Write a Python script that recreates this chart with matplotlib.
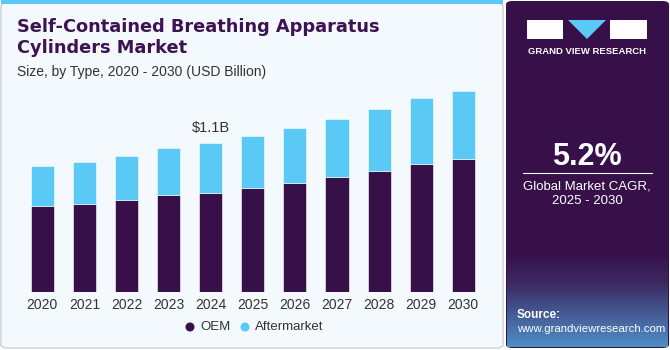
import numpy as np
import matplotlib
matplotlib.use("Agg")
from matplotlib import pyplot as plt
from matplotlib.patches import FancyBboxPatch, Rectangle, Polygon
from matplotlib.colors import LinearSegmentedColormap

years = ["2020", "2021", "2022", "2023", "2024", "2025", "2026", "2027", "2028", "2029", "2030"]
oem = [0.636, 0.651, 0.683, 0.718, 0.737, 0.772, 0.809, 0.851, 0.897, 0.949, 0.982]
aftermarket = [0.301, 0.311, 0.328, 0.347, 0.363, 0.382, 0.406, 0.431, 0.459, 0.486, 0.507]
series_names = ["OEM", "Aftermarket"]
highlight_label = "$1.1B"
highlight_index = 4

PURPLE = "#37104a"
CYAN = "#5bc9f5"
BG = "#f4f9fd"
TXT = "#333333"

plt.rcParams["font.family"] = ["Liberation Sans", "DejaVu Sans"]

W, H = 670, 350
fig = plt.figure(figsize=(W / 100, H / 100), dpi=100)
fig.patch.set_facecolor("white")


def px(x, y):
    # pixel coords (from top-left) -> figure fraction
    return x / W, 1 - y / H


# left panel
fig.patches.append(FancyBboxPatch((1 / W, 2 / H), 502 / W, 345 / H,
                                  boxstyle="round,pad=0,rounding_size=0.01",
                                  transform=fig.transFigure, facecolor=BG,
                                  edgecolor="#d4d8dc", linewidth=1.2, zorder=0))
fig.patches.append(Rectangle((1 / W, 1 - 4 / H), 502 / W, 4 / H,
                             transform=fig.transFigure, facecolor=CYAN,
                             edgecolor="none", zorder=0.5))

# right panel
fig.patches.append(FancyBboxPatch((506 / W, 2 / H), 163 / W, 347 / H,
                                  boxstyle="round,pad=0,rounding_size=0.01",
                                  transform=fig.transFigure, facecolor=PURPLE,
                                  edgecolor="none", zorder=0))
# bottom gradient of right panel
gax = fig.add_axes([507 / W, 3 / H, 161 / W, 95 / H])
gax.set_zorder(1)
grad = np.linspace(0, 1, 100).reshape(-1, 1)
cmap = LinearSegmentedColormap.from_list("g", [PURPLE, "#3c2a62", "#455d96", "#4f8dc6"])
gax.imshow(grad, aspect="auto", cmap=cmap, origin="upper", extent=[0, 1, 0, 1])
gax.axis("off")

# titles
x0, y0 = px(17, 27)
fig.text(x0, y0, "Self-Contained Breathing Apparatus", fontsize=12.8,
         fontweight="bold", color="#3b1451", va="center", ha="left",
         family="DejaVu Sans")
x0, y0 = px(17, 48)
fig.text(x0, y0, "Cylinders Market", fontsize=12.8,
         fontweight="bold", color="#3b1451", va="center", ha="left",
         family="DejaVu Sans")
x0, y0 = px(17, 72)
fig.text(x0, y0, "Size, by Type, 2020 - 2030 (USD Billion)", fontsize=10,
         color=TXT, va="center", ha="left")

# main chart
ax = fig.add_axes([21.25 / W, 58 / H, 463.1 / W, 216 / H])
ax.set_zorder(2)
ax.set_facecolor("none")
x = np.arange(len(years))
ax.bar(x, oem, width=0.55, color=PURPLE, edgecolor="#ffffff", linewidth=0.4)
ax.bar(x, aftermarket, bottom=oem, width=0.55, color=CYAN, edgecolor="#ffffff", linewidth=0.4)
ax.set_xlim(-0.5, len(years) - 0.5)
ax.set_ylim(0, 1.6)
ax.set_xticks(x)
ax.set_xticklabels(years, fontsize=10, color=TXT)
ax.tick_params(axis="x", length=0, pad=4)
ax.set_yticks([])
for s in ax.spines.values():
    s.set_visible(False)
top = oem[highlight_index] + aftermarket[highlight_index]
ax.annotate(highlight_label, (highlight_index, top), xytext=(0, 6),
            textcoords="offset points", ha="center", va="bottom",
            fontsize=10.5, color=TXT)

# legend
for (lx, name, col) in [(190, series_names[0], PURPLE), (245, series_names[1], CYAN)]:
    fx, fy = px(lx, 327)
    fig.patches.append(plt.Circle((lx, H - 327), 4.5, transform=None,
                                  facecolor=col, edgecolor="none", zorder=3))
    fig.text(fx + 10 / W, fy, name, fontsize=9.5, color=TXT, va="center", ha="left")

# logo
fig.patches.append(Rectangle((527 / W, 1 - 39 / H), 36 / W, 19 / H,
                             transform=fig.transFigure, facecolor="white", edgecolor="none", zorder=3))
fig.patches.append(Polygon([px(568, 20), px(606, 20), px(587, 39)], closed=True,
                           transform=fig.transFigure, facecolor=CYAN, edgecolor="none", zorder=3))
fig.patches.append(Rectangle((610 / W, 1 - 39 / H), 37 / W, 19 / H,
                             transform=fig.transFigure, facecolor="white", edgecolor="none", zorder=3))
fx, fy = px(587, 51)
fig.text(fx, fy, "GRAND VIEW RESEARCH", fontsize=6.8, fontweight="bold",
         color="white", ha="center", va="center")

# CAGR
fx, fy = px(587, 157)
fig.text(fx, fy, "5.2%", fontsize=22, fontweight="bold", color="white",
         ha="center", va="center")
fig.add_artist(plt.Line2D([523 / W, 652 / W], [1 - 173 / H, 1 - 173 / H],
                          transform=fig.transFigure, color="white", linewidth=0.8))
fx, fy = px(587, 186)
fig.text(fx, fy, "Global Market CAGR,", fontsize=9.5, color="white", ha="center", va="center")
fx, fy = px(587, 201)
fig.text(fx, fy, "2025 - 2030", fontsize=9.5, color="white", ha="center", va="center")

# source
fx, fy = px(517, 315)
fig.text(fx, fy, "Source:", fontsize=8.5, fontweight="bold", color="white",
         ha="left", va="center", zorder=5)
fx, fy = px(517, 329)
fig.text(fx, fy, "www.grandviewresearch.com", fontsize=8.2, color="white",
         ha="left", va="center", zorder=5)

fig.savefig("out.png", dpi=100, facecolor=fig.get_facecolor())
